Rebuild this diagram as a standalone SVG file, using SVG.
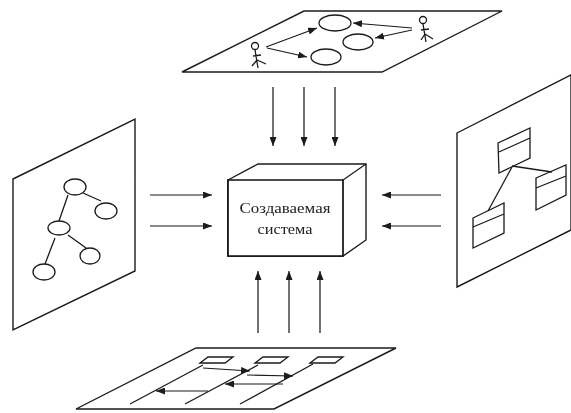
<svg xmlns="http://www.w3.org/2000/svg" width="571" height="413" viewBox="0 0 571 413">
<style>
.s{fill:none;stroke:#1a1a1a;stroke-width:1.3}
.p{fill:#fff;stroke:#1a1a1a;stroke-width:1.4}
.w{fill:#fff;stroke:#111;stroke-width:1.7}
.a{fill:none;stroke:#1a1a1a;stroke-width:1.2;marker-end:url(#h)}
.b{fill:none;stroke:#1a1a1a;stroke-width:1.2;marker-end:url(#h)}
.t{font-family:"Liberation Serif","Times New Roman",serif;font-size:14px;fill:#222;text-anchor:middle}
</style>
<defs>
<marker id="h" viewBox="0 0 9 7" refX="9" refY="3.5" markerWidth="9" markerHeight="7" markerUnits="userSpaceOnUse" orient="auto"><path d="M0 0L9 3.5L0 7Z" fill="#1a1a1a"/></marker>
<filter id="f" x="-2%" y="-2%" width="104%" height="104%"><feGaussianBlur stdDeviation="0.45"/></filter>
</defs>
<rect width="571" height="413" fill="#fff"/>
<g filter="url(#f)">
<g id="plane-top">
<polygon class="p" points="182,72 304,11 502,11 382,72"/>
<ellipse class="s" cx="335" cy="23" rx="16" ry="8"/>
<ellipse class="s" cx="358" cy="42" rx="15" ry="8"/>
<ellipse class="s" cx="326" cy="57" rx="15" ry="8"/>
<path class="s" d="M255 50L258 68M253 56L261 55M257 60L252 66M257 60L266 64"/>
<circle class="s" cx="255" cy="46" r="3.5"/>
<path class="s" d="M423 24L426 42M421 30L429 29M425 34L421 40M425 34L433 39"/>
<circle class="s" cx="423" cy="20" r="3.5"/>
<path class="a" d="M266 47L317 28"/>
<path class="a" d="M267 48L307 57"/>
<path class="a" d="M412 28L353 23"/>
<path class="a" d="M412 30L375 38"/>
</g>
<g id="plane-left">
<polygon class="p" points="13,179 135,119 135,271 13,330"/>
<path class="s" d="M68 195L59 221M83 193L101 201M55 238L45 264M68 235L86 248"/>
<ellipse class="s" cx="75" cy="187" rx="11" ry="8"/>
<ellipse class="s" cx="106" cy="211" rx="11" ry="8"/>
<ellipse class="s" cx="59" cy="228" rx="11" ry="7"/>
<ellipse class="s" cx="90" cy="256" rx="10" ry="8"/>
<ellipse class="s" cx="44" cy="272" rx="11" ry="8"/>
</g>
<g id="plane-right">
<polygon class="p" points="457,133 571,75 571,230 457,287"/>
<path class="s" d="M512 167L488 211M512 166L552 172"/>
<polygon class="s" points="498,143 530,128 530,158 499,173"/>
<path class="s" d="M499 152L530 138"/>
<polygon class="s" points="536,178 566,165 566,195 536,210"/>
<path class="s" d="M536 188L566 176"/>
<polygon class="s" points="473,218 504,203 504,233 473,248"/>
<path class="s" d="M473 227L504 214"/>
</g>
<g id="plane-bottom">
<polygon class="p" points="76,409 196,348 396,348 274,409"/>
<polygon class="s" points="200,363 208,357 233,357 225,363"/>
<polygon class="s" points="255,363 263,357 288,357 280,363"/>
<polygon class="s" points="310,363 318,357 343,357 335,363"/>
<path class="s" d="M203 365L130 404M258 365L185 404M313 364L240 404"/>
<path class="a" d="M203 368L250 371"/>
<path class="a" d="M247 375L293 376"/>
<path class="a" d="M283 384L225 384"/>
<path class="a" d="M208 391L156 391"/>
</g>
<g id="system">
<polygon class="p" points="228,180 258,164 366,164 366,240 343,256 228,256"/>
<path class="w" d="M228 180H343V256H228Z"/>
<path class="s" d="M343 180L366 164"/>
<text class="t" x="285" y="213" textLength="91" lengthAdjust="spacingAndGlyphs">Создаваемая</text>
<text class="t" x="285" y="234" textLength="55" lengthAdjust="spacingAndGlyphs">система</text>
</g>
<g id="connectors">
<path class="b" d="M273 87V146"/>
<path class="b" d="M304 87V146"/>
<path class="b" d="M335 87V146"/>
<path class="b" d="M150 195H212"/>
<path class="b" d="M150 226H212"/>
<path class="b" d="M441 195H382"/>
<path class="b" d="M441 226H382"/>
<path class="b" d="M258 333V271"/>
<path class="b" d="M289 333V271"/>
<path class="b" d="M320 333V271"/>
</g>
</g>
</svg>
